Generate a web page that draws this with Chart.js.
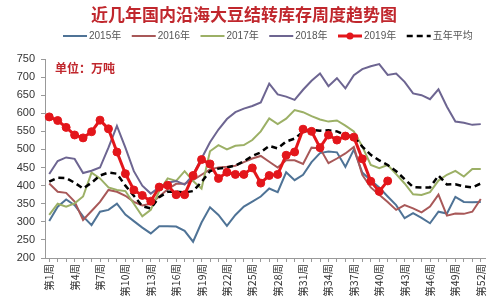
<!DOCTYPE html>
<html>
<head>
<meta charset="utf-8">
<script src="https://cdn.jsdelivr.net/npm/chart.js@4/dist/chart.umd.min.js"></script>
<style>
html,body{margin:0;padding:0;background:#fff;}
#wrap{width:500px;height:303px;position:relative;}
</style>
</head>
<body>
<div id="wrap"><canvas id="c" width="500" height="303"></canvas></div>
<script>
const TITLE = '近几年国内沿海大豆结转库存周度趋势图';
const UNIT = '单位：万吨';
const weeks = Array.from({length: 52}, (_, i) => '第' + (i + 1) + '周');
const yTicks = [200, 250, 300, 350, 400, 450, 500, 550, 600, 650, 700, 750];

const s2015 = [302,342,362,346,315,291,328,333,350,320,302,284,268,288,288,287,275,245,298,340,319,289,319,342,356,370,392,382,437,415,430,465,490,494,492,452,500,436,415,395,370,346,310,324,311,296,328,323,369,355,354,355];
const s2016 = [406,383,380,356,305,330,355,388,383,372,355,345,350,370,390,405,405,415,430,445,450,452,455,465,475,482,466,450,470,470,460,505,503,462,475,489,507,430,395,375,355,333,346,337,326,342,375,317,323,322,328,363];
const s2017 = [319,350,342,351,370,436,420,395,388,385,350,315,333,385,420,413,440,413,392,495,512,500,510,512,526,550,586,570,585,609,603,592,583,577,580,566,550,508,457,448,457,432,406,376,374,382,414,430,441,425,446,446];
const s2018 = [432,468,478,474,435,441,450,505,565,505,440,400,378,395,408,413,403,430,475,520,555,584,603,613,620,630,682,652,646,637,665,690,710,675,697,669,705,722,730,736,706,710,687,655,650,639,666,618,577,574,568,570];
const s2019 = [590,580,561,540,532,549,581,557,493,433,388,373,357,396,401,375,375,428,472,460,420,437,431,431,449,407,428,431,484,493,556,550,505,540,526,537,534,474,412,384,413];
const sAvg = [411,422,421,408,392,408,428,436,433,400,372,343,337,368,383,383,381,385,410,440,447,450,456,467,482,492,510,503,522,530,549,554,552,553,550,540,535,508,485,470,457,440,418,396,395,395,428,403,404,398,395,406];

const seriesNames = ['2015年', '2016年', '2017年', '2018年', '2019年', '五年平均'];
const colors = ['#4f7396', '#a85858', '#9cb066', '#6d6591', '#e3161b', '#000000'];

const overlay = {
  id: 'overlay',
  afterDraw(chart) {
    const ctx = chart.ctx;
    ctx.save();
    // title
    ctx.fillStyle = '#c0272d';
    ctx.font = 'bold 17px "Noto Sans CJK SC"';
    ctx.textAlign = 'center';
    ctx.textBaseline = 'middle';
    ctx.fillText(TITLE, 244, 15);
    // unit label
    ctx.font = 'bold 12px "Noto Sans CJK SC"';
    ctx.textAlign = 'left';
    ctx.fillText(UNIT, 55, 68);
    // legend
    ctx.font = '10px "Liberation Sans", "Noto Sans CJK SC"';
    ctx.textBaseline = 'middle';
    let x = 63;
    const y = 36;
    chart.data.datasets.forEach((ds) => {
      ctx.save();
      ctx.strokeStyle = ds.borderColor;
      ctx.lineWidth = ds.borderWidth;
      ctx.setLineDash(ds.borderDash || []);
      ctx.beginPath();
      ctx.moveTo(x, y);
      ctx.lineTo(x + 24, y);
      ctx.stroke();
      if (ds.pointRadius > 0) {
        ctx.setLineDash([]);
        ctx.fillStyle = ds.borderColor;
        ctx.beginPath();
        ctx.arc(x + 12, y, 3.5, 0, Math.PI * 2);
        ctx.fill();
      }
      ctx.restore();
      ctx.fillStyle = '#555';
      ctx.fillText(ds.label, x + 26, y + 0.5);
      x += 26 + ctx.measureText(ds.label).width + 10.5;
    });
    ctx.restore();
  }
};

const mk = (i, data, extra) => Object.assign({
  label: seriesNames[i],
  data: data,
  borderColor: colors[i],
  backgroundColor: colors[i],
  borderWidth: 2,
  pointRadius: 0,
  tension: 0,
  fill: false,
  order: 5 - i
}, extra || {});

new Chart(document.getElementById('c'), {
  type: 'line',
  data: {
    labels: weeks,
    datasets: [
      mk(0, s2015),
      mk(1, s2016),
      mk(2, s2017),
      mk(3, s2018),
      mk(4, s2019, {borderWidth: 3, pointRadius: 4, pointBackgroundColor: colors[4], pointBorderColor: colors[4], pointBorderWidth: 1, order: 0}),
      mk(5, sAvg, {borderWidth: 2.5, borderDash: [6, 4], order: 1})
    ]
  },
  options: {
    responsive: false,
    devicePixelRatio: 1,
    animation: false,
    events: [],
    layout: {padding: {top: 59, left: 8, right: 15, bottom: 0}},
    plugins: {
      legend: {display: false},
      title: {display: false},
      tooltip: {enabled: false}
    },
    scales: {
      x: {
        offset: true,
        grid: {drawOnChartArea: false, drawTicks: true, tickLength: 4, color: '#999'},
        border: {color: '#999'},
        ticks: {
          autoSkip: false,
          maxRotation: 90,
          minRotation: 90,
          padding: 2,
          color: '#333',
          font: {family: '"Noto Sans CJK SC"', size: 10.5},
          callback: function(v, i) { return i % 3 === 0 ? weeks[i] : ''; }
        },
        afterFit: (s) => { s.height = 45; }
      },
      y: {
        min: yTicks[0],
        max: yTicks[yTicks.length - 1],
        afterBuildTicks: (s) => { s.ticks = yTicks.map(v => ({value: v})); },
        grid: {drawOnChartArea: false, drawTicks: true, tickLength: 4, color: '#999'},
        border: {color: '#999'},
        ticks: {
          padding: 6,
          color: '#333',
          font: {family: '"Liberation Sans"', size: 11}
        },
        afterFit: (s) => { s.width = 37; }
      }
    }
  },
  plugins: [overlay]
});
</script>
</body>
</html>
